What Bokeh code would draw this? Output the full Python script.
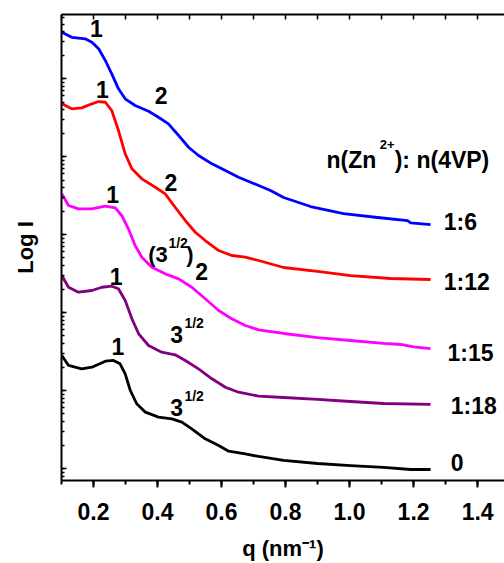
import numpy as np
from bokeh.plotting import figure
from bokeh.models import (Range1d, LinearAxis, SingleIntervalTicker, Label, LogTicker,
                          PrintfTickFormatter)
from bokeh.embed import file_html
from bokeh.resources import INLINE

FONT = "Liberation Sans"

# ---- data (q in nm^-1, log10 of intensity in arbitrary, vertically offset units) ----
q_blue = [0.101, 0.132, 0.174, 0.195, 0.216, 0.237, 0.257, 0.278, 0.299, 0.330, 0.372,
          0.403, 0.434, 0.466, 0.497, 0.528, 0.570, 0.612, 0.653, 0.716, 0.753, 0.794,
          0.878, 0.981, 1.0875, 1.181, 1.191, 1.253]
logI_blue = [5.594, 5.529, 5.509, 5.465, 5.381, 5.231, 5.060, 4.868, 4.740, 4.654, 4.581,
             4.504, 4.419, 4.269, 4.119, 4.013, 3.906, 3.821, 3.735, 3.628, 3.564, 3.474,
             3.359, 3.269, 3.218, 3.179, 3.150, 3.128]

q_red = [0.101, 0.132, 0.163, 0.195, 0.216, 0.237, 0.257, 0.278, 0.299, 0.320, 0.351,
         0.393, 0.424, 0.455, 0.487, 0.518, 0.549, 0.591, 0.632, 0.674, 0.716, 0.794,
         0.900, 1.003, 1.128, 1.253]
logI_red = [4.676, 4.612, 4.624, 4.676, 4.705, 4.696, 4.590, 4.333, 4.035, 3.842, 3.714,
            3.606, 3.522, 3.350, 3.179, 3.029, 2.923, 2.795, 2.731, 2.709, 2.667, 2.577,
            2.526, 2.474, 2.436, 2.423]

q_mag = [0.101, 0.122, 0.153, 0.195, 0.237, 0.268, 0.288, 0.309, 0.330, 0.351, 0.382,
         0.424, 0.466, 0.507, 0.549, 0.591, 0.632, 0.674, 0.716, 0.794, 0.900, 1.003,
         1.106, 1.160, 1.200, 1.253]
logI_mag = [3.522, 3.372, 3.329, 3.329, 3.363, 3.342, 3.244, 3.073, 2.859, 2.709, 2.581,
            2.496, 2.432, 2.324, 2.176, 2.026, 1.919, 1.833, 1.778, 1.731, 1.679, 1.641,
            1.603, 1.590, 1.560, 1.538]

q_pur = [0.101, 0.122, 0.153, 0.195, 0.226, 0.257, 0.278, 0.299, 0.320, 0.341, 0.372,
         0.413, 0.455, 0.487, 0.528, 0.570, 0.612, 0.653, 0.716, 0.794, 0.900, 1.003,
         1.106, 1.253]
logI_pur = [2.474, 2.324, 2.260, 2.282, 2.324, 2.337, 2.304, 2.154, 1.919, 1.727, 1.577,
            1.491, 1.458, 1.385, 1.278, 1.150, 1.042, 0.978, 0.927, 0.910, 0.885, 0.859,
            0.833, 0.821]

q_blk = [0.101, 0.122, 0.163, 0.195, 0.237, 0.2625, 0.283, 0.299, 0.315, 0.335, 0.362,
         0.403, 0.445, 0.476, 0.507, 0.549, 0.591, 0.622, 0.674, 0.716, 0.794, 0.900,
         1.003, 1.106, 1.191, 1.253]
logI_blk = [1.449, 1.321, 1.278, 1.299, 1.376, 1.385, 1.342, 1.214, 1.000, 0.830, 0.722,
            0.658, 0.637, 0.594, 0.509, 0.381, 0.295, 0.222, 0.188, 0.154, 0.103, 0.064,
            0.038, 0.013, -0.013, -0.013]

series_names = ["1:6", "1:12", "1:15", "1:18", "0"]
series_colors = ["#0000FF", "#FF0000", "#FF00FF", "#800080", "#000000"]

series = [(q_blue, logI_blue), (q_red, logI_red), (q_mag, logI_mag),
          (q_pur, logI_pur), (q_blk, logI_blk)]

p = figure(width=504, height=563, output_backend="svg", toolbar_location=None,
           y_axis_type="log",
           x_range=Range1d(0.1, 1.484), y_range=Range1d(10 ** -0.154, 10 ** 5.821),
           min_border_left=61, min_border_right=0, min_border_top=14, min_border_bottom=83)
p.outline_line_color = None
p.xgrid.visible = False
p.ygrid.visible = False
p.background_fill_color = "white"

for (qq, ll), c in zip(series, series_colors):
    p.line(qq, 10 ** np.array(ll), line_color=c, line_width=2.8, line_join="round")

# bottom axis
xa = p.xaxis[0]
xa.ticker = SingleIntervalTicker(interval=0.2, num_minor_ticks=2)
xa.formatter = PrintfTickFormatter(format="%.1f")
xa.axis_line_width = 2
xa.axis_line_color = "black"
xa.major_tick_line_color = "black"
xa.minor_tick_line_color = "black"
xa.major_tick_line_width = 2
xa.minor_tick_line_width = 2
xa.major_tick_in = 0
xa.major_tick_out = 7
xa.minor_tick_in = 0
xa.minor_tick_out = 4
xa.major_label_text_font = FONT
xa.major_label_text_font_style = "bold"
xa.major_label_text_font_size = "23px"
xa.major_label_text_color = "black"
xa.major_label_standoff = 15
xa.axis_label = "q (nm\u207b\u00b9)"
xa.axis_label_text_font = FONT
xa.axis_label_text_font_style = "bold"
xa.axis_label_text_font_size = "22px"
xa.axis_label_text_color = "black"
xa.axis_label_standoff = 13

# left axis (log, unlabeled)
ya = p.yaxis[0]
ya.ticker = LogTicker(num_minor_ticks=10)
ya.axis_line_width = 2
ya.axis_line_color = "black"
ya.major_tick_line_color = "black"
ya.minor_tick_line_color = "black"
ya.major_tick_line_width = 1.5
ya.minor_tick_line_width = 1.5
ya.major_tick_in = 5
ya.major_tick_out = 0
ya.minor_tick_in = 3
ya.minor_tick_out = 0
ya.major_label_text_font_size = "1px"
ya.major_label_text_color = None
ya.major_label_standoff = 0
ya.axis_label = "Log I"
ya.axis_label_text_font = FONT
ya.axis_label_text_font_style = "bold"
ya.axis_label_text_font_size = "22px"
ya.axis_label_text_color = "black"
ya.axis_label_standoff = 24

# top axis (ticks only)
ta = LinearAxis(ticker=SingleIntervalTicker(interval=0.1, num_minor_ticks=0))
ta.axis_line_width = 2
ta.axis_line_color = "black"
ta.major_tick_line_color = "black"
ta.major_tick_line_width = 1.5
ta.major_tick_in = 5
ta.major_tick_out = 0
ta.minor_tick_in = 0
ta.minor_tick_out = 0
ta.major_label_text_font_size = "1px"
ta.major_label_text_color = None
ta.major_label_standoff = 0
p.add_layout(ta, "above")

SHIFT = 0.1  # baseline correction (log units)


def lab(x, logy, text, size=23, style="bold", align="left"):
    p.add_layout(Label(x=x, y=10 ** (logy + SHIFT), text=text, text_font=FONT,
                       text_font_size=f"{size}px", text_font_style=style,
                       text_align=align, text_baseline="alphabetic",
                       text_color="black"))


# peak annotations
lab(0.209, 5.538, "1", align="center")
lab(0.411, 4.680, "2", align="center")
lab(0.228, 4.760, "1", align="center")
lab(0.442, 3.564, "2", align="center")
lab(0.260, 3.414, "1", align="center")
lab(0.371, 2.645, "(3", size=22)
lab(0.434, 2.795, "1/2", size=14)
lab(0.490, 2.645, ")", size=22)
lab(0.5375, 2.431, "2", align="center")
lab(0.271, 2.368, "1", align="center")
lab(0.440, 1.619, "3")
lab(0.484, 1.769, "1/2", size=14)
lab(0.276, 1.470, "1", align="center")
lab(0.440, 0.679, "3")
lab(0.484, 0.833, "1/2", size=14)

# header
lab(0.928, 3.859, "n(Zn", size=23)
lab(1.094, 4.051, "2+", size=13)
lab(1.141, 3.859, "): n(4VP)", size=23)

# series labels
for name, lx, ly in zip(series_names, [1.294, 1.294, 1.306, 1.316, 1.316],
                        [3.064, 2.295, 1.385, 0.705, -0.026]):
    lab(lx, ly, name, size=23)

open("out.html", "w").write(file_html(p, INLINE))
